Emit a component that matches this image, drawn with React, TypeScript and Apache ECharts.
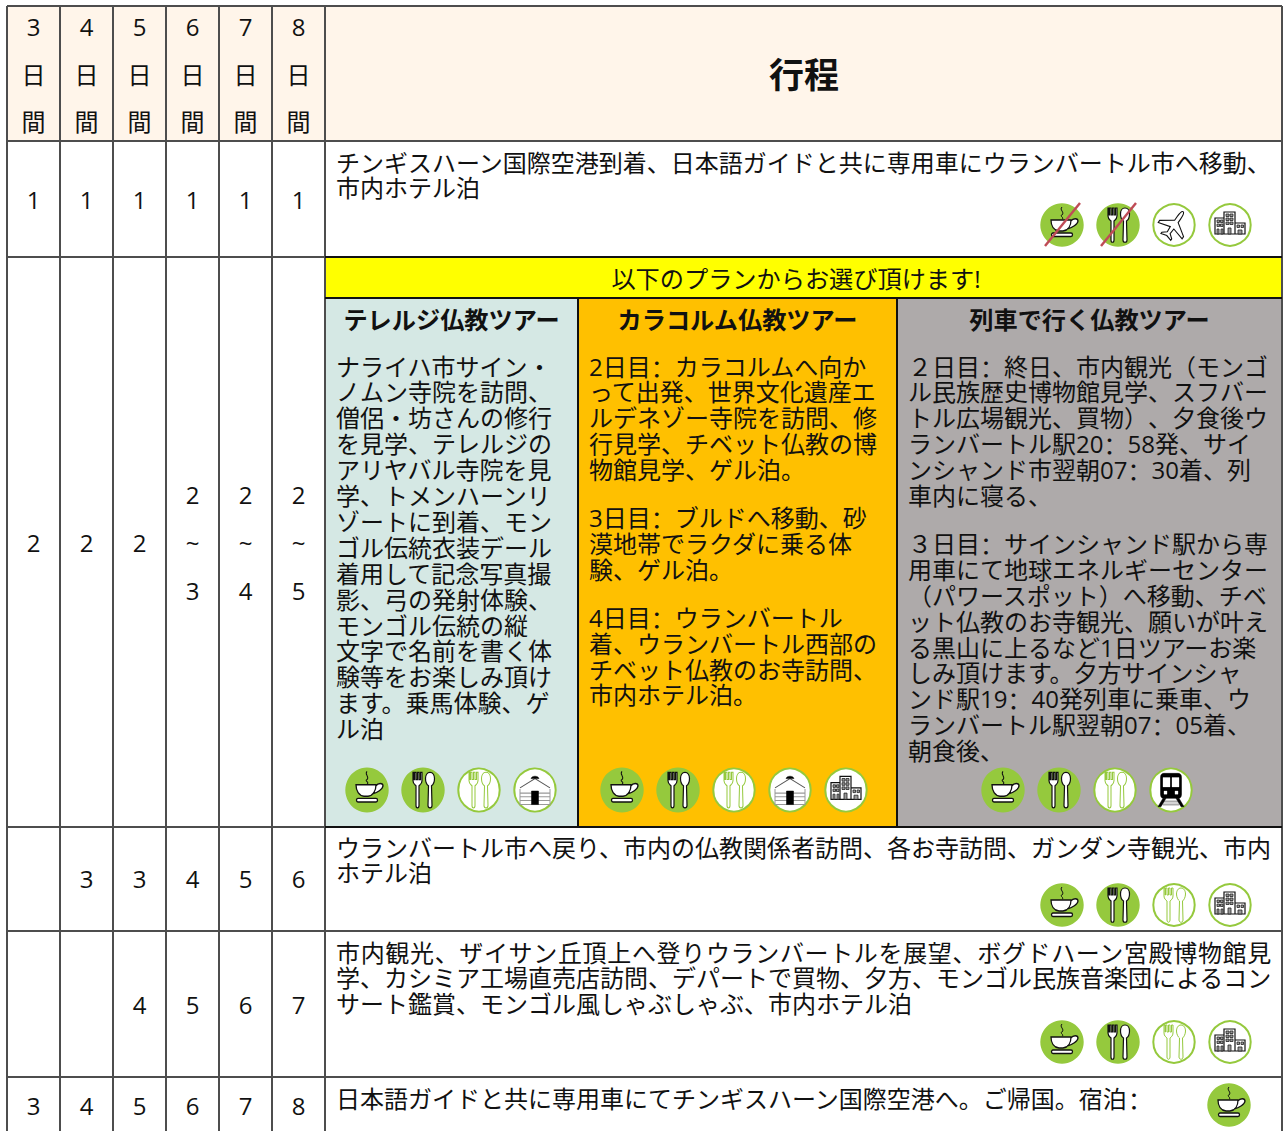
import React, { useEffect, useRef } from "react";
import * as echarts from "echarts";

const FONT = '"Open Sans","Noto Sans CJK JP",sans-serif';
const COLON_FONT = '"Noto Sans CJK SC",sans-serif';
const LINE = 25.9;
const PARA_GAP = 22;
const DY = -1.5;

const columnEdges = [7, 60, 113, 166, 219, 272, 325, 1282];
const rowEdges = [6, 141, 257, 827, 931, 1077, 1140];
const planEdges = [325, 578, 897, 1282];

const headerDays = ["3", "4", "5", "6", "7", "8"];
const headerTitle = "行程";
const dayRows: { y: number; cells: string[][] }[] = [
  { y: 200.7, cells: [["1"], ["1"], ["1"], ["1"], ["1"], ["1"]] },
  { y: 543.7, cells: [["2"], ["2"], ["2"], ["2", "~", "3"], ["2", "~", "4"], ["2", "~", "5"]] },
  { y: 879.7, cells: [[], ["3"], ["3"], ["4"], ["5"], ["6"]] },
  { y: 1005.7, cells: [[], [], ["4"], ["5"], ["6"], ["7"]] },
  { y: 1106.7, cells: [["3"], ["4"], ["5"], ["6"], ["7"], ["8"]] },
];

const row1Text = [
  "チンギスハーン国際空港到着、日本語ガイドと共に専用車にウランバートル市へ移動、",
  "市内ホテル泊",
];
const choiceText = "以下のプランからお選び頂けます!";
const planTitles = ["テレルジ仏教ツアー", "カラコルム仏教ツアー", "列車で行く仏教ツアー"];
const plan1Text = [
  "ナライハ市サイン・",
  "ノムン寺院を訪問、",
  "僧侶・坊さんの修行",
  "を見学、テレルジの",
  "アリヤバル寺院を見",
  "学、トメンハーンリ",
  "ゾートに到着、モン",
  "ゴル伝統衣装デール",
  "着用して記念写真撮",
  "影、弓の発射体験、",
  "モンゴル伝統の縦",
  "文字で名前を書く体",
  "験等をお楽しみ頂け",
  "ます。乗馬体験、ゲ",
  "ル泊",
];
const plan2Text = [
  "2日目：カラコルムへ向か",
  "って出発、世界文化遺産エ",
  "ルデネゾー寺院を訪問、修",
  "行見学、チベット仏教の博",
  "物館見学、ゲル泊。",
  "",
  "3日目：ブルドへ移動、砂",
  "漠地帯でラクダに乗る体",
  "験、ゲル泊。",
  "",
  "4日目：ウランバートル",
  "着、ウランバートル西部の",
  "チベット仏教のお寺訪問、",
  "市内ホテル泊。",
];
const plan3Text = [
  "２日目：終日、市内観光（モンゴ",
  "ル民族歴史博物館見学、スフバー",
  "トル広場観光、買物）、夕食後ウ",
  "ランバートル駅20：58発、サイ",
  "ンシャンド市翌朝07：30着、列",
  "車内に寝る、",
  "",
  "３日目：サインシャンド駅から専",
  "用車にて地球エネルギーセンター",
  "（パワースポット）へ移動、チベ",
  "ット仏教のお寺観光、願いが叶え",
  "る黒山に上るなど1日ツアーお楽",
  "しみ頂けます。夕方サインシャ",
  "ンド駅19：40発列車に乗車、ウ",
  "ランバートル駅翌朝07：05着、",
  "朝食後、",
];
const row3Text = [
  "ウランバートル市へ戻り、市内の仏教関係者訪問、各お寺訪問、ガンダン寺観光、市内",
  "ホテル泊",
];
const row4Text = [
  "市内観光、ザイサン丘頂上へ登りウランバートルを展望、ボグドハーン宮殿博物館見",
  "学、カシミア工場直売店訪問、デパートで買物、夕方、モンゴル民族音楽団によるコン",
  "サート鑑賞、モンゴル風しゃぶしゃぶ、市内ホテル泊",
];
const row5Text = ["日本語ガイドと共に専用車にてチンギスハーン国際空港へ。ご帰国。宿泊："];

type Ic = [string, number];
const iconRows: { y: number; sy: number; icons: Ic[] }[] = [
  { y: 225, sy: 1, icons: [["cupX", 1062], ["mealX", 1118], ["plane", 1174], ["hotel", 1230]] },
  {
    y: 790,
    sy: 1.04,
    icons: [
      ["cup", 367], ["meal", 423], ["mealOff", 479], ["ger", 535],
      ["cup", 622], ["meal", 678], ["mealOff", 734], ["ger", 790], ["hotel", 846],
      ["cup", 1003], ["meal", 1059], ["mealOff", 1115], ["train", 1171],
    ],
  },
  { y: 905, sy: 1, icons: [["cup", 1062], ["meal", 1118], ["mealOff", 1174], ["hotel", 1230]] },
  { y: 1042, sy: 1, icons: [["cup", 1062], ["meal", 1118], ["mealOff", 1174], ["hotel", 1230]] },
  { y: 1105, sy: 1, icons: [["cup", 1229]] },
];

const GREEN = "#95C93D";
const shapes: Record<string, string> = {
  icoCupBody: "M-11,-5 L9,-5 C9,1 6,5.5 1,6 L-3,6 C-8,5.5 -11,1 -11,-5 Z M9,-4 C11,-7 16,-7 16,-4 C16,-1 10,3 5,4",
  icoSteam: "M0,-18 C-3,-15 3,-13 0,-10 C-3,-9 3,-7 0,-6",
  icoSaucer: "M-9,8 L9,8 C11,8 11,11.5 9,11.5 L-9,11.5 C-11,11.5 -11,8 -9,8 Z",
  icoFork:
    "M-10,-17 L-10,-9 C-10,-6 -8,-5 -7,-4 L-7,15 C-7,18 -4,18 -4,15 L-4,-4 C-3,-5 -1,-6 -1,-9 L-1,-17 L-2.5,-17 L-2.5,-10 L-4,-10 L-4,-17 L-5.5,-17 L-5.5,-10 L-7,-10 L-7,-17 L-8.5,-17 L-8.5,-10 L-9,-10 L-9,-17 Z",
  icoSpoon:
    "M7,-17 C4,-17 2.5,-14 2.5,-11 C2.5,-8 4,-5 5.5,-4 L5,15 C5,18 9,18 9,15 L8.5,-4 C10,-5 11.5,-8 11.5,-11 C11.5,-14 10,-17 7,-17 Z",
  icoPlane:
    "M0,-19 C2,-19 2.5,-15 2.5,-10 L2.5,-5 L17,5 L17,8 L2.5,4 L2,11 L7,15 L7,17 L0,15 L-7,17 L-7,15 L-2,11 L-2.5,4 L-17,8 L-17,5 L-2.5,-5 L-2.5,-10 C-2.5,-15 -2,-19 0,-19 Z",
  icoBlocks: "M-15,9 L-15,-7 L-6,-7 L-6,-13 L5,-13 L5,-2 L15,-2 L15,9 Z M-6,-7 L-6,9 M5,-2 L5,9",
  icoWindows:
    "M-13,-5 h2.5 v2.5 h-2.5 Z M-9.5,-5 h2.5 v2.5 h-2.5 Z M-13,-1 h2.5 v2.5 h-2.5 Z M-9.5,-1 h2.5 v2.5 h-2.5 Z M-13,4 h2 v5 h-2 Z M-9,4 h2 v5 h-2 Z " +
    "M-4,-11 h3 v2.5 h-3 Z M0,-11 h3 v2.5 h-3 Z M-4,-7 h3 v2.5 h-3 Z M0,-7 h3 v2.5 h-3 Z M-4,-3 h3 v2.5 h-3 Z M0,-3 h3 v2.5 h-3 Z M-2,3 h3 v6 h-3 Z " +
    "M7,0 h2.5 v2.5 h-2.5 Z M11,0 h2.5 v2.5 h-2.5 Z M8,5 h4 v4 h-4 Z",
  icoGerRoof: "M-15,-2 L0,-11 L15,-2",
  icoGerWall: "M-15,-1 L-15,14 L15,14 L15,-1 M-15,3 L15,3 M-15,6.5 L15,6.5 M-15,10 L15,10",
  icoGerDoor: "M-3.5,1 L3.5,1 L3.5,14 L-3.5,14 Z M-4,-11 C-3,-14 3,-14 4,-11 Z",
  icoTrain:
    "M-7,-16 L7,-16 C9,-16 10.5,-15 10.5,-12 L10.5,4 C10.5,7 9,8 7,8 L-7,8 C-9,8 -10.5,7 -10.5,4 L-10.5,-12 C-10.5,-15 -9,-16 -7,-16 Z",
  icoTrainWin: "M-8,-12 L-1,-12 L-1,-3 L-8,-3 Z M1,-12 L8,-12 L8,-3 L1,-3 Z M-7,1 h3 v3 h-3 Z M4,1 h3 v3 h-3 Z",
  icoTrainLegs: "M-8,8 L-5,8 L-10,16 L-13,16 Z M5,8 L8,8 L13,16 L10,16 Z",
  icoTrainRail: "M-7,11 L7,11 M-8,14 L8,14",
};
Object.keys(shapes).forEach((k) => {
  echarts.graphic.registerShape(k, echarts.graphic.extendPath(shapes[k] as any, {}) as any);
});

const p = (type: string, fill: string, stroke: string, lineWidth = 1, extra: any = {}) => ({
  type,
  style: { fill, stroke, lineWidth },
  ...extra,
});

function glyphs(kind: string): any[] {
  const cup = () => [
    p("icoSteam", "none", "#111", 1),
    p("icoCupBody", "#fff", "#111", 1.3),
    p("icoSaucer", "#fff", "#111", 1.3),
  ];
  const meal = (c: string, w: number) => [p("icoFork", "#fff", c, w), p("icoSpoon", "#fff", c, w)];
  const slash = {
    type: "line",
    shape: { x1: -17, y1: 21, x2: 18, y2: -22 },
    style: { stroke: "#BF4B56", lineWidth: 2.4 },
  };
  switch (kind) {
    case "cup":
      return cup();
    case "cupX":
      return [...cup(), slash];
    case "meal":
      return meal("#111", 1.2);
    case "mealX":
      return [...meal("#111", 1.2), slash];
    case "mealOff":
      return meal(GREEN, 1);
    case "plane":
      return [p("icoPlane", "#fff", "#111", 1.3, { rotation: -0.6, scaleX: 0.85, scaleY: 0.85 })];
    case "hotel":
      return [p("icoBlocks", "#fff", "#111", 1.2), p("icoWindows", "#999", "#222", 0.8)];
    case "ger":
      return [
        p("icoGerRoof", "none", "#555", 1),
        p("icoGerWall", "none", "#999", 1),
        p("icoGerDoor", "#000", "#000", 0.5),
      ];
    case "train":
      return [
        p("icoTrainRail", "none", "#aaa", 2),
        p("icoTrainLegs", "#000", "#000", 0.5),
        p("icoTrain", "#000", "#000", 0.5),
        p("icoTrainWin", "#fff", "#fff", 0.3),
      ];
  }
  return [];
}

function icon(kind: string, x: number, y: number, sy: number) {
  const filled = kind === "cup" || kind === "cupX" || kind === "meal" || kind === "mealX";
  return {
    type: "group",
    x,
    y,
    scaleY: sy,
    children: [
      {
        type: "circle",
        shape: { cx: 0, cy: 0, r: filled ? 21.7 : 20.7 },
        style: filled ? { fill: GREEN } : { fill: "#fff", stroke: GREEN, lineWidth: 2 },
      },
      ...glyphs(kind),
    ],
  };
}

const text = (t: string, x: number, y: number, o: any = {}) => {
  const hasColon = t.includes("：");
  return {
    type: "text",
    style: {
      text: hasColon ? t.replace(/：/g, "{c|：}") : t,
      x,
      y: y + DY,
      fontFamily: FONT,
      fontSize: 24,
      fill: "#111",
      textAlign: "left",
      textVerticalAlign: "middle",
      ...(hasColon ? { rich: { c: { fontFamily: COLON_FONT, fontSize: 24, fill: "#111" } } } : {}),
      ...o,
    },
  };
};

function block(lines: string[], x: number, y0: number) {
  const out: any[] = [];
  let y = y0;
  lines.forEach((l) => {
    if (l) {
      out.push(text(l, x, y));
      y += LINE;
    } else {
      y += PARA_GAP;
    }
  });
  return out;
}

const rect = (x1: number, y1: number, x2: number, y2: number, fill: string) => ({
  type: "rect",
  shape: { x: x1, y: y1, width: x2 - x1, height: y2 - y1 },
  style: { fill },
});
const seg = (x1: number, y1: number, x2: number, y2: number, c: string) => ({
  type: "line",
  shape: { x1, y1, x2, y2 },
  style: { stroke: c, lineWidth: 2 },
});

function elements(): any[] {
  const els: any[] = [];
  const GRID = "#4d4d4d";
  els.push(rect(0, 0, 1283, 1131, "#fff"));
  els.push(rect(7, 6, 1282, 141, "#FFF5EA"));
  els.push(rect(325, 257, 1282, 298, "#FFFF00"));
  els.push(rect(325, 298, 578, 827, "#D5E8E4"));
  els.push(rect(578, 298, 897, 827, "#FFC000"));
  els.push(rect(897, 298, 1282, 827, "#AEAAAA"));

  columnEdges.forEach((x) => els.push(seg(x, 6, x, 1131, GRID)));
  rowEdges.slice(0, 6).forEach((y) => els.push(seg(7, y, 1282, y, GRID)));
  els.push(seg(325, 257, 1282, 257, "#111"));
  els.push(seg(325, 298, 1282, 298, "#111"));
  planEdges.slice(1, 3).forEach((x) => els.push(seg(x, 298, x, 827, "#111")));
  els.push(seg(325, 827, 1282, 827, "#111"));

  const colX = columnEdges.slice(0, 6).map((x, i) => (x + columnEdges[i + 1]) / 2);
  headerDays.forEach((d, i) => {
    els.push(text(d, colX[i], 27.5, { textAlign: "center" }));
    els.push(text("日", colX[i], 75.5, { textAlign: "center" }));
    els.push(text("間", colX[i], 122.5, { textAlign: "center" }));
  });
  els.push(text(headerTitle, 804, 76, { textAlign: "center", fontSize: 35, fontWeight: "bold" }));

  dayRows.forEach((r) =>
    r.cells.forEach((c, i) =>
      c.forEach((t, j) =>
        els.push(text(t, colX[i], r.y + (j - (c.length - 1) / 2) * 48, { textAlign: "center" }))
      )
    )
  );

  els.push(...block(row1Text, 336, 163.5));
  els.push(text(choiceText, 796, 279.5, { textAlign: "center", fontSize: 24.2 }));
  [451.5, 737.5, 1089.5].forEach((x, i) =>
    els.push(text(planTitles[i], x, 320.5, { textAlign: "center", fontWeight: "bold", fontSize: 24.2 }))
  );
  els.push(...block(plan1Text, 336, 367.5));
  els.push(...block(plan2Text, 589, 367.5));
  els.push(...block(plan3Text, 908, 367.5));
  els.push(...block(row3Text, 336, 848.5));
  els.push(...block(row4Text, 336, 953.5));
  els.push(...block(row5Text, 336, 1099.5));

  iconRows.forEach((r) => r.icons.forEach(([k, x]) => els.push(icon(k, x, r.y, r.sy))));
  return els;
}

export default function App() {
  const ref = useRef<HTMLDivElement>(null);
  useEffect(() => {
    const chart = echarts.init(ref.current!, null, { renderer: "svg" });
    chart.setOption({ animation: false, graphic: { elements: elements() } });
    // The reference justifies this one line across the cell's full width.
    ref.current!.querySelectorAll("text").forEach((n) => {
      if (n.textContent === row4Text[0]) n.style.letterSpacing = "0.66px";
    });
    return () => chart.dispose();
  }, []);
  return (
    <div
      ref={ref}
      style={
        {
          position: "absolute",
          left: 0,
          top: 0,
          width: 1283,
          height: 1131,
          overflow: "hidden",
          textSpacingTrim: "space-all",
        } as any
      }
    />
  );
}
